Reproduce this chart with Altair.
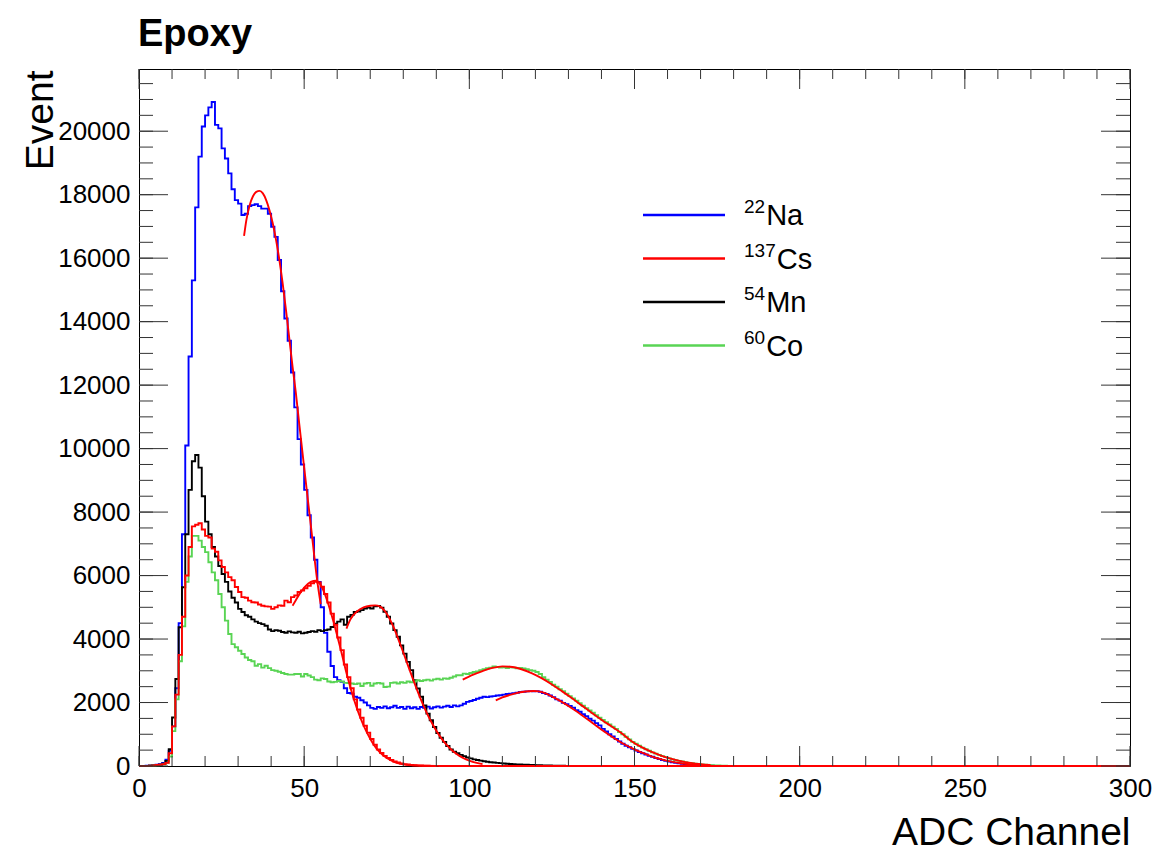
import altair as alt
import pandas as pd

# ---------------- data (counts per 1-channel bin) ----------------
NA_22 = [
    0, 0, 10, 20, 30, 40, 60, 100, 200, 480,
    1250, 2450, 4500, 7300, 10100, 12900, 15300, 17600, 19200, 20150,
    20500, 20750, 20920, 20200, 20090, 19460, 19140, 18670, 18170, 17830,
    17720, 17360, 17400, 17640, 17670, 17700, 17640, 17560, 17560, 17400,
    16990, 16670, 15940, 14960, 14100, 13400, 12400, 11300, 10300, 9500,
    8700, 7900, 7200, 6500, 5800, 5000, 4200, 3600, 3150, 2800,
    2700, 2650, 2450, 2300, 2280, 2180, 2150, 2070, 2000, 1910,
    1830, 1800, 1860, 1830, 1880, 1820, 1850, 1900, 1830, 1860,
    1800, 1870, 1820, 1850, 1800, 1860, 1830, 1870, 1810, 1850,
    1880, 1840, 1870, 1900, 1860, 1910, 1880, 1910, 1960, 2020,
    2050, 2080, 2120, 2150, 2180, 2170, 2190, 2200, 2220, 2230,
    2250, 2270, 2280, 2290, 2310, 2330, 2340, 2350, 2360, 2350,
    2360, 2340, 2300, 2270, 2220, 2170, 2100, 2060, 1990, 1950,
    1890, 1840, 1760, 1710, 1630, 1570, 1490, 1430, 1350, 1280,
    1170, 1090, 1000, 930, 850, 770, 700, 640, 590, 540,
    490, 440, 400, 360, 320, 290, 250, 220, 190, 160,
    140, 120, 100, 85, 70, 60, 50, 40, 30, 25,
    20, 15, 10, 8, 5, 5,
]
CS_137 = [
    0, 0, 5, 10, 20, 30, 40, 60, 100, 400,
    1250, 2250, 3500, 4700, 6000, 6900, 7550, 7600, 7650, 7450,
    7250, 7200, 6850, 6750, 6480, 6270, 6100, 5950, 5850, 5640,
    5480, 5320, 5300, 5210, 5160, 5150, 5090, 5050, 5030, 5020,
    4950, 5000, 5060, 5050, 5210, 5160, 5320, 5370, 5480, 5530,
    5600, 5680, 5760, 5800, 5780, 5650, 5420, 5150, 4800, 4450,
    4050, 3650, 3200, 2800, 2450, 2100, 1780, 1520, 1270, 1050,
    850, 670, 520, 410, 320, 250, 190, 140, 110, 80,
    60, 45, 35, 25, 20, 15, 10, 8, 5, 5,
    3,
]
MN_54 = [
    0, 0, 5, 10, 20, 30, 40, 70, 160, 530,
    1530, 2740, 4370, 5630, 7300, 8700, 9600, 9800, 9400, 8500,
    7700, 7300, 6900, 6600, 6300, 6050, 5800, 5500, 5300, 5150,
    4950, 4850, 4750, 4700, 4620, 4550, 4500, 4470, 4420, 4300,
    4250, 4280, 4260, 4220, 4200, 4240, 4210, 4200, 4230, 4180,
    4200, 4220, 4250, 4230, 4280, 4250, 4280, 4300, 4380, 4480,
    4550, 4620, 4450, 4700, 4760, 4850, 4870, 4910, 4960, 4990,
    4960, 5030, 5040, 4990, 4860, 4700, 4490, 4280, 4070, 3800,
    3540, 3280, 3020, 2700, 2440, 2180, 1910, 1650, 1440, 1230,
    1040, 890, 760, 630, 520, 450, 400, 350, 310, 270,
    240, 210, 190, 170, 150, 135, 120, 110, 100, 90,
    80, 72, 65, 58, 52, 47, 42, 38, 34, 30,
    27, 24, 21, 18, 15, 12, 10, 8, 6, 5,
    4,
]
CO_60 = [
    0, 0, 5, 10, 15, 25, 35, 50, 100, 300,
    1100, 2100, 3300, 4400, 5800, 6600, 7250, 7250, 7100, 6900,
    6740, 6420, 6100, 5850, 5420, 5000, 4580, 4160, 3840, 3740,
    3630, 3530, 3420, 3340, 3300, 3160, 3210, 3100, 3160, 3085,
    3020, 3000, 2970, 2930, 2900, 2880, 2880, 2900, 2900, 2820,
    2900, 2850, 2800, 2720, 2700, 2760, 2740, 2660, 2640, 2650,
    2680, 2660, 2620, 2610, 2600, 2580, 2600, 2520, 2600, 2620,
    2530, 2600, 2620, 2600, 2490, 2500, 2620, 2630, 2600, 2640,
    2620, 2660, 2640, 2660, 2700, 2680, 2700, 2720, 2690, 2730,
    2750, 2720, 2760, 2750, 2780, 2820, 2860, 2860, 2910, 2900,
    2930, 2960, 2980, 3020, 3050, 3080, 3100, 3140, 3120, 3100,
    3110, 3090, 3110, 3100, 3080, 3090, 3070, 3050, 3020, 3000,
    2960, 2900, 2800, 2720, 2650, 2560, 2500, 2420, 2360, 2280,
    2200, 2130, 2060, 1980, 1900, 1820, 1750, 1680, 1600, 1520,
    1450, 1380, 1310, 1240, 1170, 1070, 1000, 920, 840, 760,
    700, 640, 580, 530, 480, 430, 390, 350, 310, 280,
    240, 210, 180, 160, 140, 120, 100, 85, 70, 60,
    50, 40, 30, 25, 20, 15, 10, 8, 5, 5,
    3,
]

# fitted peak curves
FIT_NA511_X = [31.8, 32.5, 33.5, 34.5, 35.5, 36.5, 37.5, 38.5, 39.5, 40.5, 41.5,
               42.5, 43.5, 44.5, 45.5, 46.5, 47.5, 48.5, 50, 52, 54, 55]
FIT_NA511_Y = [16700, 17200, 17670, 17950, 18090, 18120, 18040, 17830, 17510, 17090, 16570,
               15940, 15200, 14360, 13470, 12570, 11740, 10790, 9400, 7600, 5800, 5100]
FIT_CS_X = [46.5, 48, 50, 52, 53.6, 55, 57, 59, 61, 63, 65, 67, 69, 71, 73, 75, 77, 80, 84, 90]
FIT_CS_Y = [5050, 5320, 5620, 5800, 5840, 5700, 5200, 4500, 3700, 2850, 2120, 1520, 1050,
            680, 420, 250, 140, 55, 15, 2]
FIT_MN_X = [62.8, 64, 66, 68, 70, 71.5, 73, 75, 77, 79, 81, 83, 85, 87, 89, 91, 93, 95, 97,
            99, 101, 104]
FIT_MN_Y = [4330, 4620, 4870, 5000, 5050, 5060, 5020, 4800, 4390, 3860, 3290, 2720, 2180,
            1700, 1290, 950, 680, 470, 320, 210, 130, 60]
FIT_NA1274_X = [108, 110, 112, 114, 116, 118, 119.5, 121, 122.5, 125.5, 128.5, 131.5, 134.5,
                137.5, 140.5, 143.5, 146.5, 149.5, 152.5, 155.5, 158.5, 161.5, 164.5, 167.5,
                170.5]
FIT_NA1274_Y = [2070, 2160, 2230, 2290, 2330, 2355, 2365, 2350, 2310, 2160, 1990, 1790, 1570,
                1340, 1110, 900, 710, 550, 410, 290, 200, 130, 80, 45, 25]
FIT_CO_X = [98, 101, 104, 107, 110, 113, 116, 119, 122, 125, 128, 131, 134, 137, 140, 143,
            146, 149, 152, 155, 158, 161, 164, 167, 170, 173]
FIT_CO_Y = [2720, 2870, 2990, 3090, 3140, 3120, 3040, 2920, 2760, 2570, 2360, 2140, 1910,
            1680, 1460, 1250, 1040, 790, 600, 450, 330, 230, 155, 100, 60, 33]

LEGEND_SUP = ["22", "137", "54", "60"]
LEGEND_NAME = ["Na", "Cs", "Mn", "Co"]

X_MAJOR = [0, 50, 100, 150, 200, 250, 300]
X_MINOR = list(range(0, 301, 10))
Y_MAJOR = [0, 2000, 4000, 6000, 8000, 10000, 12000, 14000, 16000, 18000, 20000]
Y_MINOR = list(range(0, 21501, 500))

# ---------------- styling / layout ----------------
FONT = "Liberation Sans"
BLUE, RED, BLACK, GREEN = "#0000ff", "#ff0000", "#000000", "#59d454"
LEGEND_COLORS = [BLUE, RED, BLACK, GREEN]
N_BINS = 300
W, H = 991, 697
YMAX = 21960
TICK_COLOR = "#333333"
LINE_W = 1.9

XS = alt.Scale(domain=[0, N_BINS], nice=False, zero=False)
YS = alt.Scale(domain=[0, YMAX], nice=False, zero=True)
XAXIS = alt.Axis(values=X_MAJOR, title="ADC Channel", labelPadding=9, labelFlush=False,
                 labelOverlap=False, titleX=W, titleY=78, titleAlign="right",
                 titleBaseline="alphabetic", titleFontSize=39, format="d")
YAXIS = alt.Axis(values=Y_MAJOR, title="Event", labelPadding=9, labelOverlap=False,
                 titleX=-87, titleY=1, titleAngle=270, titleAlign="right",
                 titleBaseline="alphabetic", titleFontSize=39, format="d")


def xenc():
    return alt.X("ch:Q", scale=XS, axis=XAXIS)


def yenc():
    return alt.Y("n:Q", scale=YS, axis=YAXIS)


def hist_df(counts):
    full = counts + [0] * (N_BINS - len(counts))
    return pd.DataFrame({"ch": list(range(N_BINS + 1)), "n": full + [full[-1]]})


def hist_layer(counts, color):
    return alt.Chart(hist_df(counts)).mark_line(
        interpolate="step-after", color=color, strokeWidth=LINE_W
    ).encode(x=xenc(), y=yenc())


def fit_layer(xs, ys):
    return alt.Chart(pd.DataFrame({"ch": xs, "n": ys})).mark_line(
        interpolate="monotone", color=RED, strokeWidth=LINE_W
    ).encode(x=xenc(), y=yenc())


layers = [
    hist_layer(NA_22, BLUE),
    hist_layer(MN_54, BLACK),
    hist_layer(CO_60, GREEN),
    hist_layer(CS_137, RED),
    fit_layer(FIT_NA511_X, FIT_NA511_Y),
    fit_layer(FIT_CS_X, FIT_CS_Y),
    fit_layer(FIT_MN_X, FIT_MN_Y),
    fit_layer(FIT_NA1274_X, FIT_NA1274_Y),
    fit_layer(FIT_CO_X, FIT_CO_Y),
]

# inward ticks on all four sides (ROOT style)
for vals, ln in [(X_MINOR, 10), (X_MAJOR, 20)]:
    d = pd.DataFrame({"ch": vals})
    layers.append(alt.Chart(d).mark_rule(color=TICK_COLOR, strokeWidth=1).encode(
        x=xenc(), y=alt.value(H), y2=alt.value(H - ln)))
    layers.append(alt.Chart(d).mark_rule(color=TICK_COLOR, strokeWidth=1).encode(
        x=xenc(), y=alt.value(0), y2=alt.value(ln)))
for vals, ln in [(Y_MINOR, 14), (Y_MAJOR, 29)]:
    d = pd.DataFrame({"n": vals})
    layers.append(alt.Chart(d).mark_rule(color=TICK_COLOR, strokeWidth=1).encode(
        y=yenc(), x=alt.value(0), x2=alt.value(ln)))
    layers.append(alt.Chart(d).mark_rule(color=TICK_COLOR, strokeWidth=1).encode(
        y=yenc(), x=alt.value(W), x2=alt.value(W - ln)))

# title
layers.append(alt.Chart(pd.DataFrame({"t": ["Epoxy"]})).mark_text(
    align="left", baseline="alphabetic", font=FONT, fontSize=38, fontWeight="bold",
    color="black").encode(x=alt.value(-1), y=alt.value(-23), text="t:N"))

# legend (drawn by hand so the isotope mass numbers can be superscripts)
LEG_LINE_X0, LEG_LINE_X1 = 504, 586
LEG_TEXT_X = 605
LEG_BASE_Y0, LEG_DY = 156, 43.5
SUP_SIZE, MAIN_SIZE = 19, 29
for i, (sup, name, col) in enumerate(zip(LEGEND_SUP, LEGEND_NAME, LEGEND_COLORS)):
    base = LEG_BASE_Y0 + i * LEG_DY
    d = pd.DataFrame({"sup": [sup], "name": [name]})
    layers.append(alt.Chart(d).mark_rule(color=col, strokeWidth=2.6).encode(
        x=alt.value(LEG_LINE_X0), x2=alt.value(LEG_LINE_X1),
        y=alt.value(base - 10)))
    layers.append(alt.Chart(d).mark_text(
        align="left", baseline="alphabetic", font=FONT, fontSize=SUP_SIZE,
        color="black").encode(x=alt.value(LEG_TEXT_X), y=alt.value(base - 12), text="sup:N"))
    sup_w = len(sup) * 0.556 * SUP_SIZE + 1
    layers.append(alt.Chart(d).mark_text(
        align="left", baseline="alphabetic", font=FONT, fontSize=MAIN_SIZE,
        color="black").encode(x=alt.value(LEG_TEXT_X + sup_w), y=alt.value(base),
                              text="name:N"))

chart = alt.layer(*layers).properties(
    width=W, height=H,
    padding={"left": 139, "top": 69, "right": 27, "bottom": 87},
    autosize=alt.AutoSizeParams(type="none"),
    background="white",
).configure_view(
    stroke="black", strokeWidth=1
).configure_axis(
    grid=False, domain=False, ticks=False, tickSize=0,
    labelFont=FONT, labelFontSize=26, labelColor="black",
    titleFont=FONT, titleColor="black", titleFontWeight="normal",
)

chart.save("out.html", embed_options={"renderer": "svg", "actions": False})
